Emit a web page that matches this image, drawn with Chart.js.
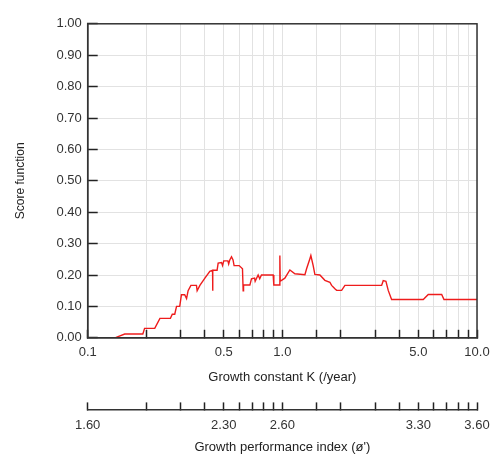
<!DOCTYPE html>
<html>
<head>
<meta charset="utf-8">
<script src="https://cdn.jsdelivr.net/npm/chart.js@4.4.1/dist/chart.umd.min.js"></script>
<style>
  html, body { margin: 0; padding: 0; background: #fff; }
  #wrap { width: 496px; height: 455px; }
</style>
</head>
<body>
<div id="wrap"><canvas id="myChart"></canvas></div>
<script>
// growth constant K (/year) and score
var kValues = [0.138, 0.155, 0.192, 0.196, 0.221, 0.235, 0.266, 0.272, 0.280, 0.286,
  0.297, 0.303, 0.315, 0.322, 0.328, 0.339, 0.362, 0.365, 0.377, 0.400,
  0.424, 0.438, 0.438, 0.440, 0.462, 0.468, 0.487, 0.493, 0.500, 0.525,
  0.530, 0.537, 0.548, 0.558, 0.565, 0.600, 0.624, 0.629, 0.632, 0.681,
  0.694, 0.720, 0.725, 0.751, 0.765, 0.781, 0.897, 0.904, 0.963, 0.971,
  0.975, 1.030, 1.093, 1.160, 1.306, 1.332, 1.385, 1.401, 1.440, 1.469,
  1.559, 1.654, 1.755, 1.791, 1.862, 1.900, 2.016, 2.096, 3.236, 3.298,
  3.405, 3.499, 3.642, 5.296, 5.618, 6.585, 6.767, 10];
var scores = [0.000, 0.012, 0.012, 0.030, 0.030, 0.062, 0.062, 0.075, 0.075, 0.100,
  0.100, 0.137, 0.137, 0.125, 0.150, 0.167, 0.167, 0.150, 0.167, 0.190,
  0.212, 0.215, 0.150, 0.215, 0.215, 0.238, 0.240, 0.230, 0.245, 0.245,
  0.235, 0.248, 0.258, 0.248, 0.230, 0.230, 0.220, 0.150, 0.168, 0.168,
  0.188, 0.190, 0.180, 0.200, 0.188, 0.200, 0.200, 0.168, 0.168, 0.262,
  0.180, 0.190, 0.216, 0.204, 0.201, 0.220, 0.252, 0.262, 0.230, 0.202,
  0.200, 0.183, 0.177, 0.167, 0.156, 0.151, 0.151, 0.167, 0.167, 0.182,
  0.180, 0.151, 0.122, 0.122, 0.138, 0.138, 0.122, 0.122];

var kLabels = [0.1, 0.5, 1, 5, 10];
var phiLabels = ['1.60', '2.30', '2.60', '3.30', '3.60'];

var font = 'Liberation Sans, Arial, sans-serif';

function labelIndex(v) {
  var r = Math.round(v * 1000) / 1000;
  return kLabels.indexOf(r);
}

var framePlugin = {
  id: 'frame',
  afterDatasetsDraw: function(chart) {
    var a = chart.chartArea, c = chart.ctx;
    c.save();
    c.strokeStyle = '#333';
    c.lineWidth = 1.5;
    c.strokeRect(a.left, a.top, a.right - a.left, a.bottom - a.top);
    c.restore();
  }
};

var ctx = document.getElementById('myChart').getContext('2d');
var myChart = new Chart(ctx, {
  type: 'scatter',
  data: {
    datasets: [{
      label: 'Score',
      data: kValues.map(function(k, i) { return { x: k, y: scores[i] }; }),
      showLine: true,
      borderColor: '#ee1c1c',
      borderWidth: 1.4,
      pointRadius: 0,
      tension: 0,
      xAxisID: 'x',
      yAxisID: 'y'
    }]
  },
  plugins: [framePlugin],
  options: {
    responsive: true,
    maintainAspectRatio: false,
    animation: false,
    layout: { padding: { top: 23, right: 19, bottom: 0, left: 0 } },
    plugins: { legend: { display: false }, tooltip: { enabled: false } },
    scales: {
      x: {
        type: 'logarithmic',
        position: 'bottom',
        min: 0.1,
        max: 10,
        grid: { color: '#e2e2e2', lineWidth: 1, tickColor: '#222', tickLength: -8, tickWidth: 1.5 },
        border: { color: '#333', width: 1.5 },
        ticks: {
          autoSkip: false, maxRotation: 0, padding: 0,
          color: '#333', font: { family: font, size: 13, lineHeight: '45px' },
          callback: function(v) { return labelIndex(v) >= 0 ? Number(v).toFixed(1) : ''; }
        },
        title: {
          display: true, text: 'Growth constant K (/year)', color: '#222',
          font: { family: font, size: 13 }, padding: { top: -5, bottom: 24 }
        }
      },
      x2: {
        type: 'logarithmic',
        position: 'bottom',
        min: 0.1,
        max: 10,
        grid: { drawOnChartArea: false, color: '#222', tickColor: '#222', tickLength: -7, tickWidth: 1.5 },
        border: { color: '#333', width: 1.5 },
        ticks: {
          autoSkip: false, maxRotation: 0, padding: 0,
          color: '#333', font: { family: font, size: 13, lineHeight: '46px' },
          callback: function(v) { var i = labelIndex(v); return i >= 0 ? phiLabels[i] : ''; }
        },
        title: {
          display: true, text: "Growth performance index (ø')", color: '#222',
          font: { family: font, size: 13 }, padding: { top: -9, bottom: 0 }
        }
      },
      y: {
        min: 0,
        max: 1,
        grid: { color: '#e2e2e2', lineWidth: 1, tickColor: '#222', tickLength: -10, tickWidth: 1.5 },
        border: { color: '#333', width: 1.5 },
        ticks: {
          stepSize: 0.1, padding: 16,
          color: '#333', font: { family: font, size: 13 },
          callback: function(v) { return Number(v).toFixed(2); }
        },
        title: {
          display: true, text: 'Score function', color: '#222',
          font: { family: font, size: 12 }, padding: { top: 13, bottom: 13 }
        }
      }
    }
  }
});
</script>
</body>
</html>
